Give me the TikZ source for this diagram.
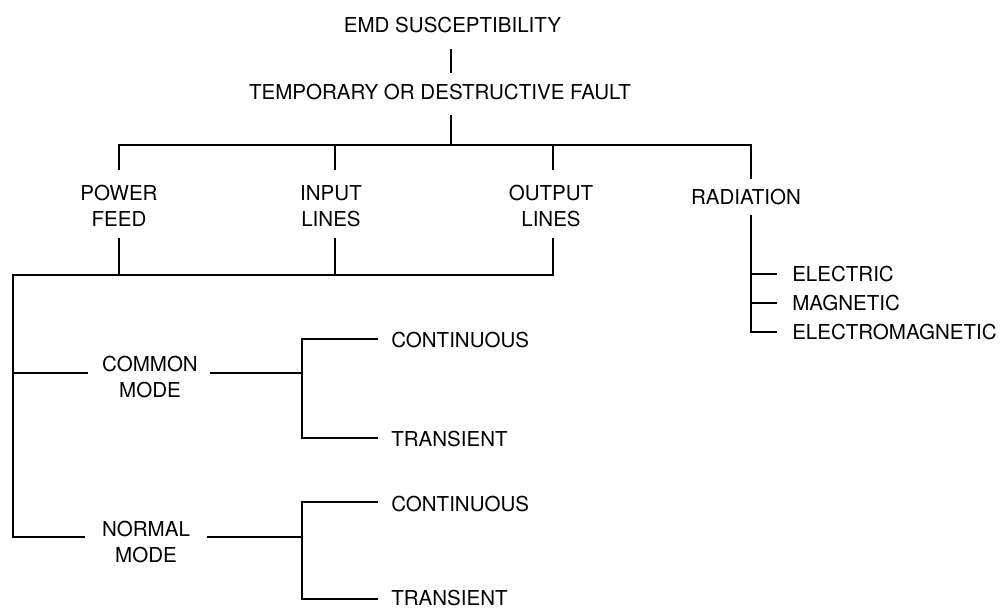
\documentclass[tikz,border=0pt]{standalone}
\usepackage{fontspec}
\setmainfont{TeX Gyre Heros}
\begin{document}
\begin{tikzpicture}[x=0.75pt,y=-0.75pt,
  lbl/.style={inner sep=0pt, align=center, font=\fontsize{15.4pt}{19.5pt}\selectfont},
  ln/.style={line width=1.4pt, line join=miter}]
\useasboundingbox (0,0) rectangle (1008,610);
% labels
\node[lbl, anchor=north] (emd) at (452.5,17) {EMD SUSCEPTIBILITY};
\node[lbl, anchor=north] (temp) at (440,84) {TEMPORARY OR DESTRUCTIVE FAULT};
\node[lbl, anchor=north] (power) at (119,185) {POWER\\FEED};
\node[lbl, anchor=north] (input) at (331,185) {INPUT\\LINES};
\node[lbl, anchor=north] (output) at (551,185) {OUTPUT\\LINES};
\node[lbl, anchor=north] (rad) at (746,189) {RADIATION};
\node[lbl, anchor=west] (elec) at (792,274) {ELECTRIC};
\node[lbl, anchor=west] (mag) at (792,303) {MAGNETIC};
\node[lbl, anchor=west] (emag) at (792,332) {ELECTROMAGNETIC};
\node[lbl, anchor=north] (common) at (150,356) {COMMON\\MODE};
\node[lbl, anchor=west] (cont1) at (391,340) {CONTINUOUS};
\node[lbl, anchor=west] (trans1) at (391,439) {TRANSIENT};
\node[lbl, anchor=north] (normal) at (146,521) {NORMAL\\MODE};
\node[lbl, anchor=west] (cont2) at (391,504) {CONTINUOUS};
\node[lbl, anchor=west] (trans2) at (391,598.5) {TRANSIENT};
% connector end points
\coordinate (emdB) at (451,49);
\coordinate (tmpT) at (451,73);
\coordinate (tmpB) at (451,115);
\coordinate (j0) at (451,145);
\coordinate (pwT) at (119,170);
\coordinate (pwJ) at (119,145);
\coordinate (inT) at (335,170);
\coordinate (inJ) at (335,145);
\coordinate (outT) at (553,170);
\coordinate (outJ) at (553,145);
\coordinate (radJ) at (751,145);
\coordinate (radT) at (751,179);
\coordinate (pwB) at (119,238);
\coordinate (pwK) at (119,275);
\coordinate (inB) at (335,238);
\coordinate (inK) at (335,275);
\coordinate (outB) at (553,238);
\coordinate (outK) at (553,275);
\coordinate (lk) at (13,275);
\coordinate (lcm) at (13,373);
\coordinate (lnm) at (13,537);
\coordinate (cmL) at (88,373);
\coordinate (nmL) at (85,537);
\coordinate (cmR) at (210,373);
\coordinate (cmJ) at (302,373);
\coordinate (cmT) at (302,339);
\coordinate (cmBt) at (302,438);
\coordinate (c1E) at (378,339);
\coordinate (t1E) at (378,438);
\coordinate (nmR) at (207,537);
\coordinate (nmJ) at (302,537);
\coordinate (nmT) at (302,502);
\coordinate (nmBt) at (302,599);
\coordinate (c2E) at (378,502);
\coordinate (t2E) at (378,599);
\coordinate (radB) at (751,215);
\coordinate (rE) at (751,274);
\coordinate (rM) at (751,303);
\coordinate (rEM) at (751,332);
\coordinate (rEe) at (777,274);
\coordinate (rMe) at (777,303);
\coordinate (rEMe) at (777,332);
% connectors
\draw[ln] (emdB) -- (tmpT);
\draw[ln] (tmpB) -- (j0);
\draw[ln] (pwT) -- (pwJ) -- (radJ) -- (radT);
\draw[ln] (inJ) -- (inT);
\draw[ln] (outJ) -- (outT);
\draw[ln] (pwB) -- (pwK);
\draw[ln] (inB) -- (inK);
\draw[ln] (outB) -- (outK) -- (lk) -- (lnm) -- (nmL);
\draw[ln] (lcm) -- (cmL);
\draw[ln] (cmR) -- (cmJ);
\draw[ln] (c1E) -- (cmT) -- (cmBt) -- (t1E);
\draw[ln] (nmR) -- (nmJ);
\draw[ln] (c2E) -- (nmT) -- (nmBt) -- (t2E);
\draw[ln] (radB) -- (rEM) -- (rEMe);
\draw[ln] (rE) -- (rEe);
\draw[ln] (rM) -- (rMe);
\end{tikzpicture}
\end{document}
